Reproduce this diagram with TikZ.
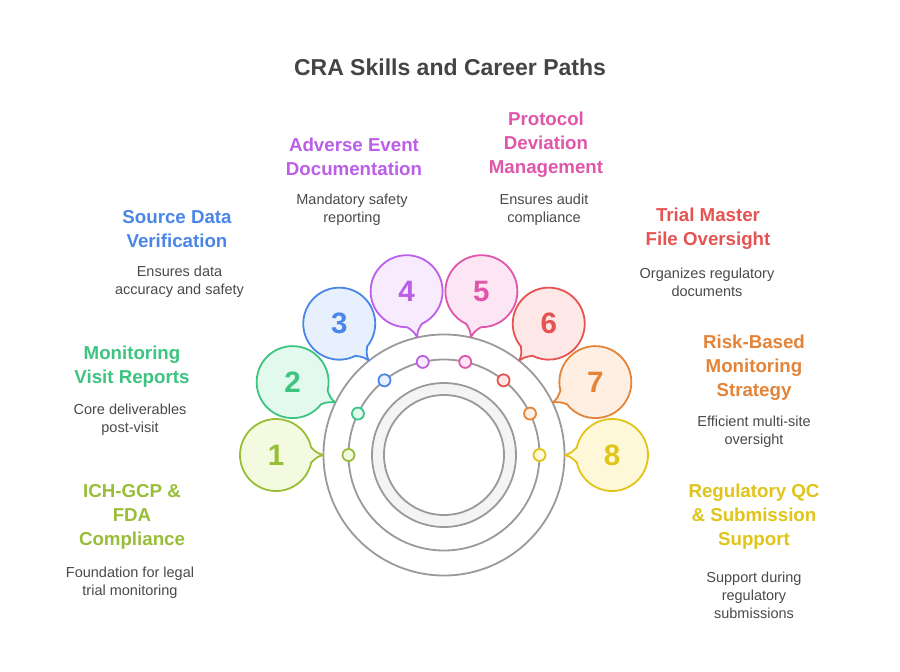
\documentclass[tikz,border=0pt]{standalone}
\usepackage{fontspec}
\setmainfont{Liberation Sans}
\usetikzlibrary{calc}
\definecolor{cA}{HTML}{98BE38}\definecolor{fA}{HTML}{F3FADF}
\definecolor{cB}{HTML}{3CC480}\definecolor{fB}{HTML}{E2F9EE}
\definecolor{cC}{HTML}{4A86E8}\definecolor{fC}{HTML}{E8F0FD}
\definecolor{cD}{HTML}{BB5EE8}\definecolor{fD}{HTML}{F7EBFD}
\definecolor{cE}{HTML}{E056AA}\definecolor{fE}{HTML}{FDE6F3}
\definecolor{cF}{HTML}{E55353}\definecolor{fF}{HTML}{FDE7E7}
\definecolor{cG}{HTML}{E48438}\definecolor{fG}{HTML}{FEEFE2}
\definecolor{cH}{HTML}{E0C418}\definecolor{fH}{HTML}{FEF8D8}
\definecolor{ringgray}{HTML}{9A9A9A}
\definecolor{ringfill}{HTML}{F4F4F4}
\definecolor{dtext}{HTML}{4A4A4A}
\definecolor{ttext}{HTML}{444444}
\begin{document}
\begin{tikzpicture}[x=1pt,y=-1pt,
  ring/.style={draw=ringgray, line width=1.8pt},
  bubble/.style={line width=1.8pt, line join=round},
  num/.style={inner sep=0, font=\bfseries\fontsize{29.5}{31}\selectfont},
  dot/.style={circle, minimum size=12pt, inner sep=0, line width=1.8pt},
  head/.style={align=center, inner sep=0, font=\bfseries\fontsize{18.7}{24}\selectfont},
  desc/.style={align=center, inner sep=0, text=dtext, font=\fontsize{14.5}{18}\selectfont},
  ttl/.style={inner sep=0, text=ttext, font=\bfseries\fontsize{23}{26}\selectfont}]
\path[fill=white] (0,0) rectangle (900,672);
\useasboundingbox (0,0) rectangle (900,672);

\coordinate (C) at (444,455);
\draw[ring] (C) circle[radius=120.5];
\draw[ring] (C) circle[radius=95.5];
\draw[ring, fill=ringfill, even odd rule] (C) circle[radius=72] (C) circle[radius=60];

\foreach \k/\c/\f in {1/cA/fA,2/cB/fB,3/cC/fC,4/cD/fD,5/cE/fE,6/cF/fF,7/cG/fG,8/cH/fH}{
  \pgfmathsetmacro\a{180+(\k-1)*180/7}
  \pgfmathsetmacro\s{\a+192}
  \pgfmathsetmacro\e{\a+528}
  \coordinate (b\k) at ($(C)+(\a:168)$);
  \coordinate (t\k) at ($(C)+(\a:121)$);
  \coordinate (p\k) at ($(b\k)+(\s:36)$);
  \draw[bubble, draw=\c, fill=\f] (p\k) arc[start angle=\s, end angle=\e, radius=36]
     .. controls ($(b\k)+(\a+177:41)$) .. (t\k)
     .. controls ($(b\k)+(\a+183:41)$) .. (p\k) -- cycle;
  \node[num, text=\c] (n\k) at (b\k) {\k};
  \node[dot, draw=\c, fill=\f] (d\k) at ($(C)+(\a:95.5)$) {};
}

\node[ttl] (title) at (450,67) {CRA Skills and Career Paths};

\node[head, text=cA] (h1) at (132,517) {ICH-GCP \&\\FDA\\Compliance};
\node[desc] (s1) at (130,583) {Foundation for legal\\trial monitoring};
\node[head, text=cB] (h2) at (132,367) {Monitoring\\Visit Reports};
\node[desc] (s2) at (130,420) {Core deliverables\\post-visit};
\node[head, text=cC] (h3) at (177,229) {Source Data\\Verification};
\node[desc] (s3) at (179.5,282) {Ensures data\\accuracy and safety};
\node[head, text=cD] (h4) at (354,157) {Adverse Event\\Documentation};
\node[desc] (s4) at (352,210) {Mandatory safety\\reporting};
\node[head, text=cE] (h5) at (546,145) {Protocol\\Deviation\\Management};
\node[desc] (s5) at (544,210) {Ensures audit\\compliance};
\node[head, text=cF] (h6) at (708,229) {Trial Master\\File Oversight};
\node[desc] (s6) at (707,282) {Organizes regulatory\\documents};
\node[head, text=cG] (h7) at (754,367.5) {Risk-Based\\Monitoring\\Strategy};
\node[desc] (s7) at (754,432) {Efficient multi-site\\oversight};
\node[head, text=cH] (h8) at (754,517) {Regulatory QC\\\& Submission\\Support};
\node[desc] (s8) at (754,595) {Support during\\regulatory\\submissions};
\end{tikzpicture}
\end{document}
